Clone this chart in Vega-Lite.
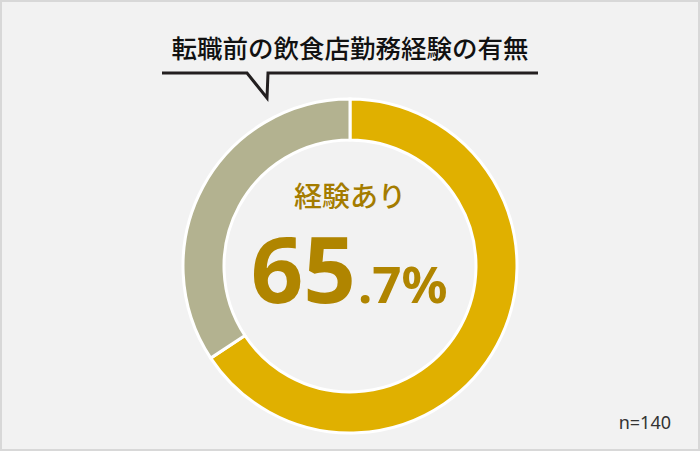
{
  "$schema": "https://vega.github.io/schema/vega-lite/v6.json",
  "width": 700,
  "height": 451,
  "autosize": {"type": "fit", "contains": "padding"},
  "padding": 0,
  "background": "#f2f2f2",
  "config": {
    "view": {"stroke": "#d8d8d8", "strokeWidth": 4, "fill": "#f2f2f2"},
    "font": "Noto Sans CJK JP"
  },
  "datasets": {
    "share": [
      {"label": "経験あり", "value": 65.7},
      {"label": "経験なし", "value": 34.3}
    ],
    "callout": [
      {"step": 1, "px": 162, "py": 73},
      {"step": 2, "px": 247, "py": 73},
      {"step": 3, "px": 267, "py": 98},
      {"step": 4, "px": 268, "py": 73},
      {"step": 5, "px": 538, "py": 73}
    ]
  },
  "data": {"name": "share"},
  "layer": [
    {
      "mark": {"type": "arc", "outerRadius": 167, "innerRadius": 126, "stroke": "#ffffff", "strokeWidth": 3},
      "encoding": {
        "theta": {"field": "value", "type": "quantitative", "stack": true},
        "color": {
          "field": "label",
          "type": "nominal",
          "scale": {"domain": ["経験あり", "経験なし"], "range": ["#e0b000", "#b3b290"]},
          "legend": null
        },
        "order": {"field": "label", "sort": "ascending"},
        "x": {"datum": 350, "type": "quantitative", "scale": {"domain": [0, 700], "nice": false, "zero": false}, "axis": null},
        "y": {"datum": 266, "type": "quantitative", "scale": {"domain": [0, 451], "nice": false, "zero": false, "reverse": true}, "axis": null}
      }
    },
    {
      "data": {"name": "callout"},
      "mark": {"type": "line", "color": "#231f20", "strokeWidth": 3, "strokeJoin": "miter"},
      "encoding": {
        "x": {"field": "px", "type": "quantitative"},
        "y": {"field": "py", "type": "quantitative"},
        "order": {"field": "step"}
      }
    },
    {
      "transform": [{"filter": "datum.label === '経験あり'"}],
      "mark": {"type": "text", "align": "center", "baseline": "middle", "fontSize": 25.5, "fontWeight": 500, "color": "#111111"},
      "encoding": {
        "text": {"value": "転職前の飲食店勤務経験の有無"},
        "x": {"datum": 350},
        "y": {"datum": 50}
      }
    },
    {
      "transform": [{"filter": "datum.label === '経験あり'"}],
      "mark": {"type": "text", "align": "center", "baseline": "middle", "fontSize": 28, "fontWeight": 500, "color": "#a47c00"},
      "encoding": {
        "text": {"field": "label"},
        "x": {"datum": 350},
        "y": {"datum": 199}
      }
    },
    {
      "transform": [
        {"filter": "datum.label === '経験あり'"},
        {"calculate": "floor(datum.value)", "as": "whole"}
      ],
      "mark": {"type": "text", "align": "right", "baseline": "alphabetic", "fontSize": 92, "fontWeight": "bold", "font": "Noto Sans", "color": "#b08500"},
      "encoding": {
        "text": {"field": "whole", "type": "quantitative", "format": "d"},
        "x": {"datum": 356},
        "y": {"datum": 303}
      }
    },
    {
      "transform": [
        {"filter": "datum.label === '経験あり'"},
        {"calculate": "'.' + substring(format(datum.value, '.1f'), 3) + '%'", "as": "rest"}
      ],
      "mark": {"type": "text", "align": "left", "baseline": "alphabetic", "fontSize": 51, "fontWeight": "bold", "font": "Noto Sans", "color": "#b08500"},
      "encoding": {
        "text": {"field": "rest"},
        "x": {"datum": 358},
        "y": {"datum": 303}
      }
    },
    {
      "transform": [{"filter": "datum.label === '経験あり'"}],
      "mark": {"type": "text", "align": "right", "baseline": "alphabetic", "fontSize": 18, "font": "Noto Sans", "color": "#333333"},
      "encoding": {
        "text": {"value": "n=140"},
        "x": {"datum": 671},
        "y": {"datum": 429}
      }
    }
  ]
}
